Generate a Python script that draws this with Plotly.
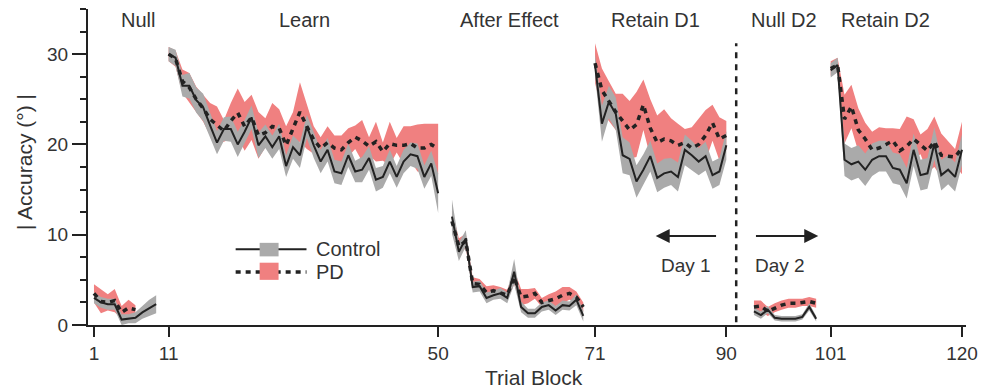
import plotly.graph_objects as go

# ---------------- data ----------------
# Null (day 1)
null1_blocks = list(range(1, 11))
null1_ctrl = [3.0, 2.5, 2.3, 2.3, 0.6, 0.7, 0.8, 1.4, 1.9, 2.3]
null1_ctrl_se = [0.6, 0.6, 0.6, 0.6, 0.6, 0.5, 0.6, 0.7, 0.9, 1.0]
null1_pd_blocks = list(range(1, 8))
null1_pd = [3.5, 2.6, 2.5, 2.7, 1.4, 1.9, 1.7]
null1_pd_se = [1.0, 1.3, 0.9, 1.3, 0.7, 0.9, 0.5]

# Learn
learn_blocks = list(range(11, 51))
learn_ctrl = [30.0, 29.6, 26.5, 26.5, 24.9, 24.1, 22.1, 20.2, 21.7, 21.7,
              20.0, 21.4, 23.0, 19.9, 20.9, 19.7, 20.9, 17.6, 19.7, 18.8,
              22.0, 19.9, 18.1, 19.4, 17.0, 16.8, 18.8, 17.0, 17.2, 18.5,
              16.1, 16.4, 18.1, 16.4, 18.1, 18.9, 18.7, 16.4, 17.9, 14.6]
learn_ctrl_se = [0.8, 0.9, 1.2, 1.4, 1.4, 1.5, 1.4, 1.3, 1.3, 1.4,
                 1.4, 1.3, 1.3, 1.4, 1.3, 1.3, 1.4, 1.2, 1.3, 1.4,
                 1.3, 1.4, 1.3, 1.3, 1.3, 1.3, 1.3, 1.2, 1.4, 1.3,
                 1.3, 1.2, 1.3, 1.2, 1.3, 1.3, 1.4, 1.3, 1.4, 2.2]
learn_pd = [30.0, 29.5, 27.0, 26.3, 25.0, 24.0, 22.8, 22.2, 21.5, 22.6,
            23.5, 22.0, 23.0, 21.0, 21.3, 22.0, 21.8, 19.9, 21.8, 23.6,
            22.0, 20.5, 19.6, 20.2, 19.6, 19.4, 20.2, 20.8, 20.4, 19.8,
            20.3, 19.2, 20.1, 19.9, 19.9, 20.1, 19.6, 19.6, 20.0, 19.5]
learn_pd_se = [0.8, 0.9, 1.3, 1.6, 1.4, 1.5, 1.8, 2.0, 1.2, 2.0,
               2.7, 2.7, 2.5, 2.6, 1.6, 2.6, 2.1, 2.1, 1.8, 3.3,
               2.5, 1.5, 1.2, 1.8, 1.4, 1.6, 1.6, 1.3, 2.3, 1.0,
               2.2, 1.0, 2.4, 0.8, 2.1, 1.9, 2.6, 2.7, 2.3, 2.8]

# After Effect
after_blocks = list(range(51, 71))
after_ctrl = [12.0, 8.1, 9.6, 4.2, 4.3, 3.0, 3.3, 3.5, 3.0, 5.9,
              2.0, 1.3, 1.3, 2.0, 2.2, 1.6, 2.2, 2.1, 2.8, 1.0]
after_ctrl_se = [1.9, 1.0, 0.9, 0.6, 0.6, 0.6, 0.5, 0.6, 0.6, 1.4,
                 0.6, 0.5, 0.5, 0.5, 0.5, 0.5, 0.5, 0.5, 0.6, 0.6]
after_pd = [11.5, 8.7, 9.3, 4.6, 4.5, 3.6, 3.8, 3.6, 3.3, 5.3,
            3.1, 3.2, 3.5, 2.5, 2.7, 2.9, 3.3, 3.5, 3.1, 2.0]
after_pd_se = [1.2, 0.9, 0.8, 0.7, 0.6, 0.7, 0.6, 0.6, 0.6, 0.8,
               0.9, 0.8, 0.6, 0.5, 0.7, 0.8, 0.9, 0.7, 0.6, 0.5]

# Retain D1
ret1_blocks = list(range(71, 91))
ret1_ctrl = [28.8, 22.3, 24.7, 23.4, 18.8, 18.4, 15.9, 17.2, 18.7, 16.3,
             16.8, 17.0, 16.4, 19.4, 18.8, 18.1, 18.7, 16.6, 17.0, 19.9]
ret1_ctrl_se = [1.2, 2.0, 1.8, 1.8, 2.0, 1.8, 1.8, 1.7, 1.7, 1.6,
                1.6, 1.5, 1.6, 1.7, 1.6, 1.5, 1.6, 1.5, 1.5, 1.6]
ret1_pd = [29.0, 26.0, 24.8, 23.6, 22.6, 21.6, 22.2, 24.4, 21.8, 20.2,
           20.6, 20.4, 19.9, 20.2, 19.6, 20.0, 21.0, 22.4, 20.6, 21.0]
ret1_pd_se = [2.2, 2.4, 2.2, 2.0, 3.0, 3.2, 3.6, 2.8, 3.2, 3.0,
              3.3, 2.5, 2.4, 1.5, 2.3, 2.8, 2.8, 2.0, 2.4, 1.6]

# Null D2
null2_blocks = list(range(91, 101))
null2_ctrl = [1.5, 1.1, 1.7, 0.8, 0.7, 0.7, 0.7, 0.9, 2.0, 0.7]
null2_ctrl_se = [0.4, 0.4, 0.4, 0.3, 0.3, 0.3, 0.3, 0.3, 0.4, 0.3]
null2_pd = [2.0, 2.1, 1.5, 1.9, 2.2, 2.4, 2.4, 2.5, 2.6, 2.4]
null2_pd_se = [0.7, 0.6, 0.5, 0.5, 0.5, 0.5, 0.5, 0.4, 0.5, 0.5]

# Retain D2
ret2_blocks = list(range(101, 121))
ret2_ctrl = [28.2, 28.8, 18.3, 17.8, 18.1, 17.2, 18.3, 18.7, 18.7, 17.4,
             17.2, 15.7, 19.4, 16.6, 16.8, 20.1, 16.6, 17.2, 16.4, 19.4]
ret2_ctrl_se = [0.8, 0.8, 1.8, 1.8, 1.8, 1.8, 1.8, 1.7, 1.7, 1.7,
                1.7, 1.7, 1.8, 1.7, 1.7, 1.8, 1.7, 1.6, 1.6, 1.7]
ret2_pd = [28.4, 28.8, 22.8, 24.2, 21.6, 20.6, 19.4, 19.6, 20.0, 20.4,
           19.3, 19.8, 20.6, 20.0, 19.3, 20.3, 18.8, 18.7, 18.6, 19.6]
ret2_pd_se = [0.8, 0.8, 2.7, 2.4, 2.4, 1.8, 2.0, 2.3, 1.8, 1.4,
              2.4, 3.3, 2.2, 1.1, 2.4, 2.8, 2.4, 1.6, 0.9, 2.9]

phase_labels = ["Null", "Learn", "After Effect", "Retain D1", "Null D2", "Retain D2"]
tick_blocks = [1, 11, 50, 71, 90, 101, 120]
group_names = ["Control", "PD"]
day_labels = ["Day 1", "Day 2"]

# ---------------- layout helpers ----------------
# extra horizontal spacing inserted between phases (in block units)
SEG_STARTS = [1, 11, 51, 71, 91, 101]
SEG_SHIFT = [0.0, 0.8, 1.8, 2.5, 5.5, 6.6]


def xpos(b):
    shift = 0.0
    for s, o in zip(SEG_STARTS, SEG_SHIFT):
        if b >= s:
            shift = o
    return b + shift


def xs(blocks):
    return [xpos(b) for b in blocks]


GRAY = "rgb(170,170,170)"
RED = "rgb(240,128,128)"
INK = "#222222"
TXT = "#333333"
FONT = "Liberation Sans, Arial, Helvetica, sans-serif"

ctrl_segments = [
    (null1_blocks, null1_ctrl, null1_ctrl_se),
    (learn_blocks, learn_ctrl, learn_ctrl_se),
    (after_blocks, after_ctrl, after_ctrl_se),
    (ret1_blocks, ret1_ctrl, ret1_ctrl_se),
    (null2_blocks, null2_ctrl, null2_ctrl_se),
    (ret2_blocks, ret2_ctrl, ret2_ctrl_se),
]
pd_segments = [
    (null1_pd_blocks, null1_pd, null1_pd_se),
    (learn_blocks, learn_pd, learn_pd_se),
    (after_blocks, after_pd, after_pd_se),
    (ret1_blocks, ret1_pd, ret1_pd_se),
    (null2_blocks, null2_pd, null2_pd_se),
    (ret2_blocks, ret2_pd, ret2_pd_se),
]


def band_trace(blocks, mean, se, color):
    x = xs(blocks)
    up = [m + s for m, s in zip(mean, se)]
    lo = [m - s for m, s in zip(mean, se)]
    return go.Scatter(x=x + x[::-1], y=up + lo[::-1], fill="toself",
                      fillcolor=color, line=dict(width=0), mode="lines",
                      hoverinfo="skip", showlegend=False)


fig = go.Figure()
for blocks, mean, se in pd_segments:
    fig.add_trace(band_trace(blocks, mean, se, RED))
for blocks, mean, se in ctrl_segments:
    fig.add_trace(band_trace(blocks, mean, se, GRAY))
for blocks, mean, se in ctrl_segments:
    fig.add_trace(go.Scatter(x=xs(blocks), y=mean, mode="lines",
                             line=dict(color=INK, width=2), showlegend=False))
for blocks, mean, se in pd_segments:
    fig.add_trace(go.Scatter(x=xs(blocks), y=mean, mode="lines",
                             line=dict(color=INK, width=3.5, dash="5px,5px"),
                             showlegend=False))

# phase labels
label_x = [7.35, 31.46, 61.06, 82.28, 100.9, 115.48]
annotations = []
for t, x in zip(phase_labels, label_x):
    annotations.append(dict(x=x, y=33.8, xref="x", yref="y", text=t,
                            xanchor="center", yanchor="middle",
                            showarrow=False, font=dict(size=20, color=TXT, family=FONT)))

# day divider
day_x = xpos(90) + 1.43
shapes = [dict(type="line", x0=day_x, x1=day_x, y0=0.3, y1=31.2, xref="x", yref="y",
               line=dict(color=INK, width=2.5, dash="6px,6px"))]

# arrows
annotations.append(dict(x=82.28, y=9.86, ax=91.23, ay=9.86, xref="x", yref="y",
                        axref="x", ayref="y", text="", showarrow=True,
                        arrowhead=2, arrowsize=1.4, arrowwidth=2, arrowcolor=INK))
annotations.append(dict(x=105.8, y=9.86, ax=96.57, ay=9.86, xref="x", yref="y",
                        axref="x", ayref="y", text="", showarrow=True,
                        arrowhead=2, arrowsize=1.4, arrowwidth=2, arrowcolor=INK))
annotations.append(dict(x=86.6, y=6.6, xref="x", yref="y", text=day_labels[0],
                        xanchor="center", yanchor="middle",
                        showarrow=False, font=dict(size=19, color=TXT, family=FONT)))
annotations.append(dict(x=100.3, y=6.6, xref="x", yref="y", text=day_labels[1],
                        xanchor="center", yanchor="middle",
                        showarrow=False, font=dict(size=19, color=TXT, family=FONT)))

# legend (drawn manually)
shapes.append(dict(type="line", x0=21.5, x1=31.75, y0=8.4, y1=8.4, xref="x", yref="y",
                   line=dict(color=INK, width=2)))
shapes.append(dict(type="rect", x0=24.97, x1=27.71, y0=7.6, y1=9.1, xref="x", yref="y",
                   fillcolor=GRAY, line=dict(width=0)))
shapes.append(dict(type="line", x0=21.5, x1=31.75, y0=5.87, y1=5.87, xref="x", yref="y",
                   line=dict(color=INK, width=3.5, dash="5px,5px")))
shapes.append(dict(type="rect", x0=24.97, x1=27.71, y0=5.0, y1=6.9, xref="x", yref="y",
                   fillcolor=RED, line=dict(width=0)))
annotations.append(dict(x=32.9, y=8.4, xref="x", yref="y", text=group_names[0],
                        xanchor="left", yanchor="middle", showarrow=False,
                        font=dict(size=20, color=TXT, family=FONT)))
annotations.append(dict(x=32.9, y=5.87, xref="x", yref="y", text=group_names[1],
                        xanchor="left", yanchor="middle", showarrow=False,
                        font=dict(size=20, color=TXT, family=FONT)))

# axis titles
annotations.append(dict(x=-0.0716, y=0.516, xref="paper", yref="paper",
                        xanchor="center", yanchor="middle",
                        text="| Accuracy (°) |", textangle=-90, showarrow=False,
                        font=dict(size=21, color=TXT, family=FONT)))
annotations.append(dict(x=0.508, y=-0.165, xref="paper", yref="paper",
                        xanchor="center", yanchor="middle",
                        text="Trial Block", showarrow=False,
                        font=dict(size=21, color=TXT, family=FONT)))

fig.update_layout(
    width=987, height=391,
    margin=dict(l=88, r=19, t=9, b=66),
    plot_bgcolor="white", paper_bgcolor="white",
    showlegend=False,
    font=dict(family=FONT, size=19, color=TXT),
    shapes=shapes, annotations=annotations,
)
fig.update_xaxes(
    range=[0.134, 127.18], showgrid=False, zeroline=False,
    showline=True, linewidth=2, linecolor=INK,
    tickvals=[xpos(b) for b in tick_blocks], ticktext=[str(b) for b in tick_blocks],
    ticks="outside", ticklen=10, tickwidth=2, tickcolor=INK,
    tickfont=dict(size=19, color=TXT, family=FONT),
)
fig.update_yaxes(
    range=[0, 35], showgrid=False, zeroline=False,
    showline=True, linewidth=2, linecolor=INK,
    tickvals=[0, 10, 20, 30], ticks="outside", ticklen=14, tickwidth=2, tickcolor=INK,
    tickfont=dict(size=19, color=TXT, family=FONT),
    minor=dict(dtick=2.5, tick0=0, ticks="outside", ticklen=6, tickwidth=2, tickcolor=INK),
)

fig.write_html(
    "out.html",
    config={"displayModeBar": False},
    post_script="document.body.style.margin='0';document.body.style.overflow='hidden';",
)
